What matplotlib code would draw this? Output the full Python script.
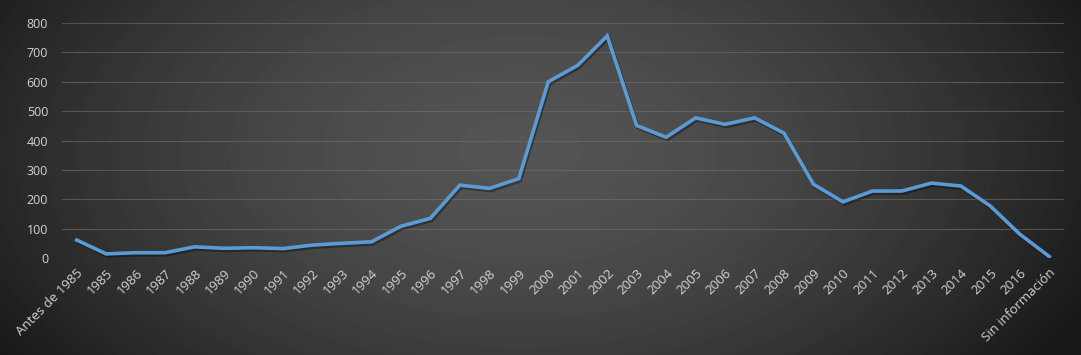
import numpy as np
import matplotlib.pyplot as plt
import matplotlib.patheffects as pe

# categories and values
labels = ["Antes de 1985"] + [str(y) for y in range(1985, 2017)] + ["Sin información"]
values = [61, 14, 18, 18, 38, 33, 35, 32, 44, 50, 55,
          108, 135, 248, 237, 270, 600, 656, 756, 451, 411,
          477, 455, 477, 425, 251, 191, 228, 228, 255, 245,
          177, 81, 5]

plt.rcParams['font.family'] = ['Open Sans', 'DejaVu Sans']

fig = plt.figure(figsize=(10.81, 3.55), dpi=100)

# radial-ish gradient background
bg = fig.add_axes([0, 0, 1, 1], zorder=-1)
h, w = 355, 1081
yy, xx = np.mgrid[0:h, 0:w]
r = np.sqrt(((xx - 520) / 620.0) ** 2 + ((yy - 150) / 360.0) ** 2)
shade = np.clip(0.33 - 0.23 * r ** 1.6, 0.09, 0.33)
bg.imshow(shade, cmap='gray', vmin=0, vmax=1, aspect='auto', extent=[0, 1, 0, 1])
bg.set_axis_off()

ax = fig.add_axes([62 / w, 1 - 258 / h, (1064 - 62) / w, (258 - 23) / h])
ax.patch.set_alpha(0)
x = np.arange(len(values))
ax.plot(x, values, color='#5b9bd5', lw=2.6, solid_joinstyle='miter',
        path_effects=[pe.SimpleLineShadow(offset=(1, -1.5), alpha=0.35), pe.Normal()])

ax.set_xlim(-0.5, len(values) - 0.5)
ax.set_ylim(0, 800)
ax.set_yticks(range(0, 801, 100))
ax.set_xticks(x)
ax.set_xticklabels(labels, rotation=45, ha='right', rotation_mode='anchor')
ax.grid(axis='y', color='#707070', lw=0.8, alpha=0.6)
ax.set_axisbelow(True)
for s in ax.spines.values():
    s.set_visible(False)
ax.tick_params(length=0, colors='#d4d4d4', labelsize=9.5)
ax.tick_params(axis='y', pad=10, labelsize=9)
ax.tick_params(axis='x', pad=6)

fig.savefig('out.png', dpi=100)
